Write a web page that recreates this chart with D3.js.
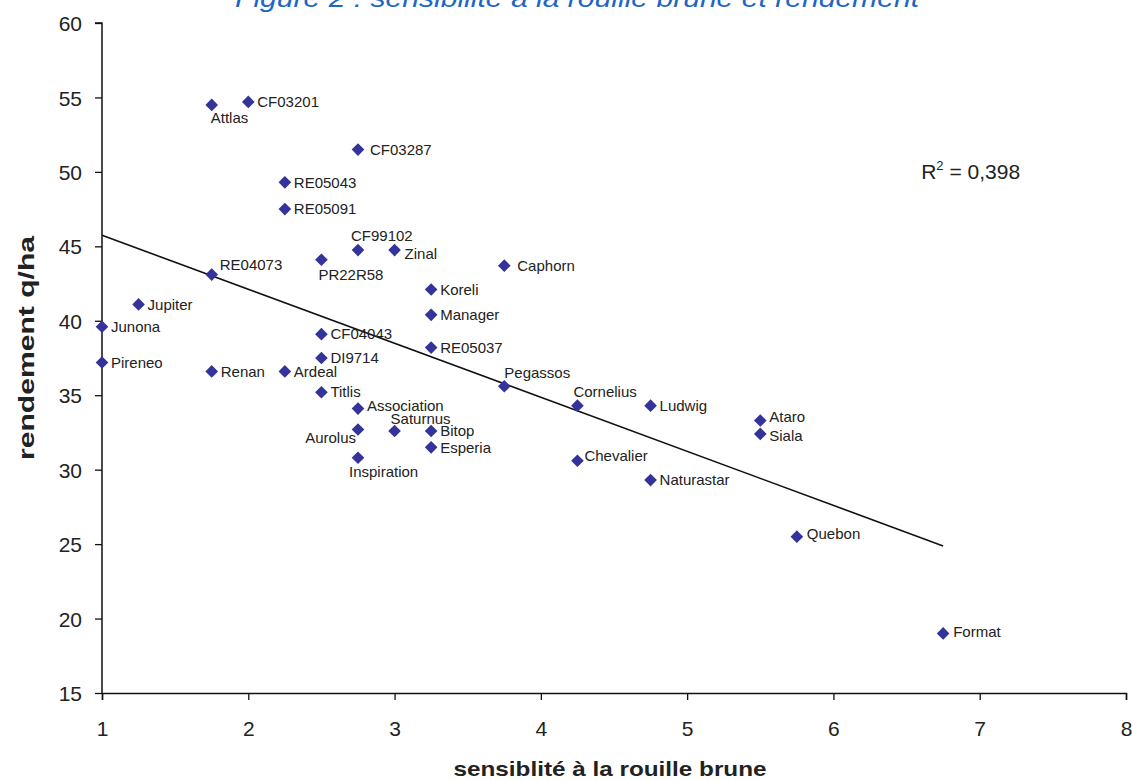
<!DOCTYPE html>
<html>
<head>
<meta charset="utf-8">
<script src="https://cdn.jsdelivr.net/npm/d3@7"></script>
<style>
  body { margin: 0; background: #fff; }
  text { font-family: "Liberation Sans", Arial, sans-serif; }
</style>
</head>
<body>
<div id="chart"></div>
<script>
// variety names, rust sensitivity and yield (q/ha)
var names = ["Attlas", "CF03201", "CF03287", "RE05043", "RE05091", "CF99102", "Zinal",
  "PR22R58", "RE04073", "Caphorn", "Koreli", "Manager", "RE05037", "Jupiter", "Junona",
  "Pireneo", "Renan", "Ardeal", "CF04043", "DI9714", "Titlis", "Association", "Aurolus",
  "Saturnus", "Bitop", "Esperia", "Inspiration", "Pegassos", "Cornelius", "Ludwig",
  "Ataro", "Siala", "Chevalier", "Naturastar", "Quebon", "Format"];
var sensib = [1.75, 2, 2.75, 2.25, 2.25, 2.75, 3,
  2.5, 1.75, 3.75, 3.25, 3.25, 3.25, 1.25, 1,
  1, 1.75, 2.25, 2.5, 2.5, 2.5, 2.75, 2.75,
  3, 3.25, 3.25, 2.75, 3.75, 4.25, 4.75,
  5.5, 5.5, 4.25, 4.75, 5.75, 6.75];
var rendement = [54.5, 54.7, 51.5, 49.3, 47.5, 44.75, 44.75,
  44.1, 43.1, 43.7, 42.1, 40.4, 38.2, 41.1, 39.6,
  37.2, 36.6, 36.6, 39.1, 37.5, 35.2, 34.1, 32.7,
  32.6, 32.6, 31.5, 30.8, 35.6, 34.3, 34.3,
  33.3, 32.4, 30.6, 29.3, 25.5, 19.0];
var xTicks = [1, 2, 3, 4, 5, 6, 7, 8];
var yTicks = [15, 20, 25, 30, 35, 40, 45, 50, 55, 60];
var r2Label = "0,398";

// where each label sits relative to its marker: [dx, dy, anchor] (default: right)
var labelPlace = {
  Attlas: [-1, 13, "start"], CF99102: [-7, -14, "start"], PR22R58: [-3, 15, "start"],
  RE04073: [8, -10, "start"], Aurolus: [-2, 8, "end"], Saturnus: [-4, -12, "start"],
  Inspiration: [-9, 14, "start"], Pegassos: [0, -14, "start"], Cornelius: [-4, -14, "start"],
  Association: [9, -3, "start"], Caphorn: [13, 0, "start"], CF03287: [12, 0, "start"],
  Chevalier: [7, -5, "start"], Ataro: [9, -4, "start"], Siala: [9, 2, "start"],
  Zinal: [10, 4, "start"], Quebon: [10, -3, "start"], Format: [10, -2, "start"]
};

var W = 1132, H = 781;
var margin = {top: 23, right: 6, bottom: 88, left: 102};
var width = W - margin.left - margin.right,
    height = H - margin.top - margin.bottom;

var data = names.map(function(n, i) { return {name: n, x: sensib[i], y: rendement[i]}; });

var x = d3.scaleLinear().domain([1, 8]).range([0, width]);
var y = d3.scaleLinear().domain([15, 60]).range([height, 0]);

var svg = d3.select("#chart").append("svg")
    .attr("width", W).attr("height", H);

// title, mostly cut off at the top of the picture
svg.append("text")
    .attr("x", 577).attr("y", 7)
    .attr("text-anchor", "middle")
    .attr("textLength", 684).attr("lengthAdjust", "spacingAndGlyphs")
    .style("font-size", "25px").style("font-style", "italic")
    .style("fill", "#1f66c4")
    .text("Figure 2 : sensibilité à la rouille brune et rendement");

var g = svg.append("g")
    .attr("transform", "translate(" + margin.left + "," + margin.top + ")");

// axes
var xAxis = g.append("g")
    .attr("transform", "translate(0," + height + ")")
    .call(d3.axisBottom(x).tickValues(xTicks).tickSize(7).tickPadding(21).tickFormat(d3.format("d")));
var yAxis = g.append("g")
    .call(d3.axisLeft(y).tickValues(yTicks).tickSize(7).tickPadding(13).tickFormat(d3.format("d")));

[xAxis, yAxis].forEach(function(a) {
  a.select(".domain").attr("stroke", "#111").attr("stroke-width", 1.5);
  a.selectAll(".tick line").attr("stroke", "#111").attr("stroke-width", 1.3);
  a.selectAll(".tick text").style("font-size", "21px").style("fill", "#222")
    .style("font-family", "'Liberation Sans', Arial, sans-serif");
});
yAxis.selectAll(".domain").attr("d", "M0," + height + "V0H-7");
yAxis.selectAll(".tick text").attr("dy", "0.36em");

// linear trend line (least squares)
var mx = d3.mean(data, function(d) { return d.x; }),
    my = d3.mean(data, function(d) { return d.y; });
var slope = d3.sum(data, function(d) { return (d.x - mx) * (d.y - my); }) /
            d3.sum(data, function(d) { return (d.x - mx) * (d.x - mx); });
var icpt = my - slope * mx;
var ext = d3.extent(data, function(d) { return d.x; });
g.append("path")
    .datum(ext)
    .attr("fill", "none").attr("stroke", "#111").attr("stroke-width", 1.6)
    .attr("d", d3.line()
      .x(function(d) { return x(d); })
      .y(function(d) { return y(icpt + slope * d); }));

// markers
var diamond = d3.symbol().type(d3.symbolSquare).size(80);
g.selectAll(".pt").data(data).enter().append("path")
    .attr("class", "pt")
    .attr("d", diamond)
    .attr("fill", "#333399")
    .attr("transform", function(d) {
      return "translate(" + x(d.x) + "," + y(d.y) + ") rotate(45)";
    });

// labels
g.selectAll(".lbl").data(data).enter().append("text")
    .attr("class", "lbl")
    .attr("x", function(d) { var p = labelPlace[d.name]; return x(d.x) + (p ? p[0] : 9); })
    .attr("y", function(d) { var p = labelPlace[d.name]; return y(d.y) + (p ? p[1] : 0); })
    .attr("dy", "0.35em")
    .attr("text-anchor", function(d) { var p = labelPlace[d.name]; return p ? p[2] : "start"; })
    .style("font-size", "15px").style("fill", "#222")
    .text(function(d) { return d.name; });

// R² annotation
var r2 = g.append("text")
    .attr("x", x(6.6)).attr("y", y(50) + 7)
    .style("font-size", "21px").style("fill", "#222");
r2.append("tspan").text("R");
r2.append("tspan").attr("dy", -9).style("font-size", "13px").text("2");
r2.append("tspan").attr("dy", 9).text(" = " + r2Label);

// axis titles
svg.append("text")
    .attr("x", 610).attr("y", 776)
    .attr("text-anchor", "middle")
    .attr("textLength", 313).attr("lengthAdjust", "spacingAndGlyphs")
    .style("font-size", "21px").style("font-weight", "bold").style("fill", "#222")
    .text("sensiblité à la rouille brune");
svg.append("text")
    .attr("transform", "translate(34,348) rotate(-90)")
    .attr("text-anchor", "middle")
    .attr("textLength", 224).attr("lengthAdjust", "spacingAndGlyphs")
    .style("font-size", "22px").style("font-weight", "bold").style("fill", "#222")
    .text("rendement q/ha");
</script>
</body>
</html>
